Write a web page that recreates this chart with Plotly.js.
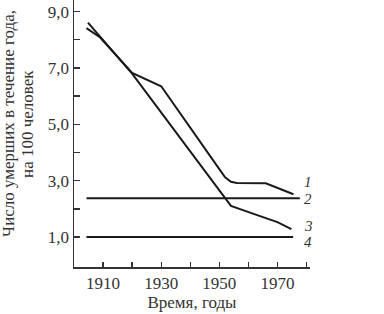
<!DOCTYPE html>
<html>
<head>
<meta charset="utf-8">
<script src="https://cdn.plot.ly/plotly-3.0.1.min.js"></script>
<style>html,body{margin:0;padding:0;background:#fff;}#chart{width:384px;height:314px;}</style>
</head>
<body>
<div id="chart"></div>
<script>
var years1 = [1904.3, 1909, 1920, 1930, 1950, 1952, 1954, 1956, 1966, 1975.5];
var line1  = [8.41, 8.08, 6.82, 6.35, 3.41, 3.12, 2.96, 2.92, 2.91, 2.52];
var years2 = [1904.3, 1977.7];
var line2  = [2.38, 2.38];
var years3 = [1904.8, 1909, 1920, 1954, 1960, 1965, 1970, 1974.8];
var line3  = [8.61, 8.12, 6.80, 2.11, 1.88, 1.71, 1.53, 1.28];
var years4 = [1904.3, 1975.4];
var line4  = [1.0, 1.0];
var seriesLabels = ['1', '2', '3', '4'];
var labelY = [2.96, 2.34, 1.40, 0.82];
var xTicks = [1910, 1920, 1930, 1940, 1950, 1960, 1970, 1980];
var xTickText = ['1910', '', '1930', '', '1950', '', '1970', ''];
var yTicks = [1, 2, 3, 4, 5, 6, 7, 8, 9];
var yTickText = ['1,0', '', '3,0', '', '5,0', '', '7,0', '', '9,0'];
var yTitleLines = ['Число умерших в течение года,', 'на 100 человек'];

var serif = '"Liberation Serif", serif';
var lineStyle = {color: '#1a1a1a', width: 2};
var traces = [
  {x: years1, y: line1},
  {x: years2, y: line2},
  {x: years3, y: line3},
  {x: years4, y: line4}
].map(function (t) {
  return {x: t.x, y: t.y, type: 'scatter', mode: 'lines', line: lineStyle, hoverinfo: 'skip', cliponaxis: false};
});

var annotations = seriesLabels.map(function (s, i) {
  return {x: 1980.6, y: labelY[i], xref: 'x', yref: 'y', text: '<i>' + s + '</i>', showarrow: false,
          font: {family: serif, size: 15, color: '#333'}, xanchor: 'center', yanchor: 'middle'};
});
var titleX = [-0.2754, -0.1949];
yTitleLines.forEach(function (t, i) {
  annotations.push({
    xref: 'paper', yref: 'paper', x: titleX[i], y: 0.536, xanchor: 'center', yanchor: 'middle',
    text: t, textangle: -90, showarrow: false,
    font: {family: serif, size: 17, color: '#333'}
  });
});

var layout = {
  width: 384, height: 314,
  margin: {l: 74, r: 74, t: 0, b: 47},
  paper_bgcolor: '#fff', plot_bgcolor: '#fff',
  showlegend: false,
  font: {family: serif, size: 17, color: '#333'},
  xaxis: {
    range: [1900, 1981.2], showgrid: false, zeroline: false,
    showline: true, linecolor: '#333', linewidth: 1.5,
    ticks: 'inside', ticklen: 5, tickwidth: 1.3, tickcolor: '#333',
    tickmode: 'array', tickvals: xTicks, ticktext: xTickText,
    tickfont: {family: serif, size: 17, color: '#333'},
    title: {text: 'Время, годы', font: {family: serif, size: 17, color: '#333'}, standoff: 2}
  },
  yaxis: {
    range: [-0.06, 9.41], showgrid: false, zeroline: false,
    showline: true, linecolor: '#333', linewidth: 1.5,
    ticks: 'inside', ticklen: 6, tickwidth: 1.3, tickcolor: '#333',
    tickmode: 'array', tickvals: yTicks, ticktext: yTickText,
    tickfont: {family: serif, size: 17, color: '#333'}
  },
  annotations: annotations
};

Plotly.newPlot('chart', traces, layout, {staticPlot: true, displayModeBar: false});
</script>
</body>
</html>
